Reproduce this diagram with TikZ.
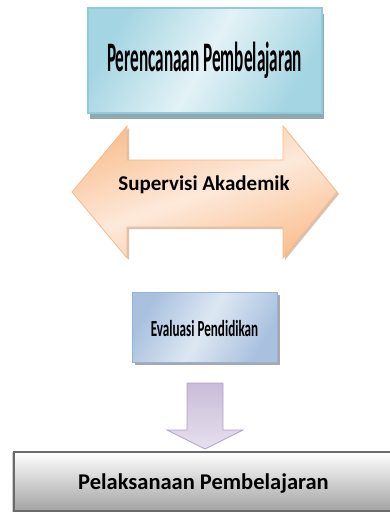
\documentclass[tikz,border=0pt]{standalone}
\usepackage{fontspec}
\setmainfont{Carlito}
\usepackage{graphicx}
\definecolor{aquaL}{HTML}{E3F2F6}
\definecolor{aquaD}{HTML}{A4D5E2}
\definecolor{aquaB}{HTML}{8FCBDB}
\definecolor{tealSh}{HTML}{8FA9AE}
\definecolor{peachD}{HTML}{FAC193}
\definecolor{peachL}{HTML}{FDE9DA}
\definecolor{peachB}{HTML}{F8B98A}
\definecolor{peachSh}{HTML}{D8C2B2}
\definecolor{blueL}{HTML}{DDE7F2}
\definecolor{blueD}{HTML}{A9C1DF}
\definecolor{blueB}{HTML}{95B3D7}
\definecolor{graySh}{HTML}{A8A8A8}
\definecolor{lavD}{HTML}{C9BCD9}
\definecolor{lavL}{HTML}{E6E0EE}
\definecolor{lavB}{HTML}{B3A2C7}
\definecolor{boxB}{HTML}{6B6B6B}
\definecolor{boxD}{HTML}{A3A3A3}
\tikzset{
  plate/.style={rectangle, inner sep=0pt, outer sep=0pt},
  lbl/.style={anchor=base, inner sep=0pt, font=\bfseries},
}
\begin{document}
\begin{tikzpicture}[x=1pt,y=-1pt]
\useasboundingbox (0,0) rectangle (389,513);
% top box
\fill[tealSh] (90,14) rectangle (324,119);
\node[plate, minimum width=234pt, minimum height=105pt, draw=aquaB, line width=1.2pt,
      top color=aquaD, bottom color=aquaD, middle color=aquaL, shading angle=60] (plan) at (205,60.5) {};
\node[lbl] (plant) at (204.5,72) {\fontsize{42}{42}\selectfont\scalebox{0.41}[1]{Perencanaan Pembelajaran}};
% double arrow
\fill[peachSh] (74,194) -- (129,128) -- (129,162) -- (285,162) -- (285,128) -- (339,194) -- (285,260) -- (285,229) -- (129,229) -- (129,260) -- cycle;
\path[draw=peachB, line width=0.8pt, top color=peachD, bottom color=peachD, middle color=peachL, shading angle=20]
  (72,192) coordinate (lt) -- (127,126) -- (127,160) -- (283,160) -- (283,126) -- (337,192) coordinate (rt) -- (283,258) -- (283,227) -- (127,227) -- (127,258) -- cycle;
\node[lbl] (sup) at (204,190) {\fontsize{21}{21}\selectfont Supervisi Akademik};
% evaluasi box
\fill[graySh] (135,295) rectangle (280,365);
\node[plate, minimum width=145pt, minimum height=70pt, draw=blueB, line width=1pt,
      top color=blueD, bottom color=blueD, middle color=blueL, shading angle=60] (eval) at (204.5,327) {};
\node[lbl] (evalt) at (204.5,336) {\fontsize{23}{23}\selectfont\scalebox{0.57}[1]{Evaluasi Pendidikan}};
% down arrow
\path[draw=lavB, line width=0.8pt, top color=lavD, bottom color=lavL]
  (187,383) -- (223,383) -- (223,430) -- (243,430) -- (205,449) coordinate (dt) -- (167,430) -- (187,430) -- cycle;
% bottom box
\draw[line width=0.8pt, gray!40] (12.5,452) -- (12.5,512);
\path[draw=boxB, line width=2pt, top color=white, bottom color=boxD]
  (14,452) rectangle (400,511);
\node[plate] (impl) at (207,481.5) {};
\node[lbl] (implt) at (203.5,489) {\fontsize{22.5}{22.5}\selectfont Pelaksanaan Pembelajaran};
\end{tikzpicture}
\end{document}
